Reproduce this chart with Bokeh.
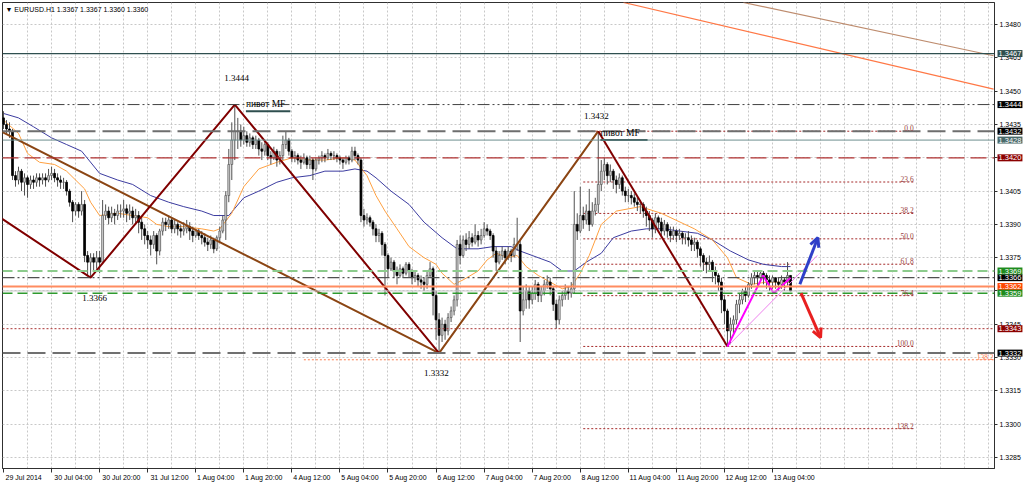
from bokeh.plotting import figure
from bokeh.models import (ColumnDataSource, Range1d, FixedTicker, PrintfTickFormatter,
                          Span, Label, Arrow, OpenHead)
from bokeh.embed import file_html
from bokeh.resources import INLINE

# ---------------- data ----------------
time_tick_bars = [0, 16, 32, 48, 64, 80, 96, 112, 128, 144, 160, 176, 192, 208, 224, 240, 256]
time_tick_labels = ["29 Jul 2014", "30 Jul 04:00", "30 Jul 20:00", "31 Jul 12:00", "1 Aug 04:00",
                    "1 Aug 20:00", "4 Aug 12:00", "5 Aug 04:00", "5 Aug 20:00", "6 Aug 12:00",
                    "7 Aug 04:00", "7 Aug 20:00", "8 Aug 12:00", "11 Aug 04:00", "11 Aug 20:00",
                    "12 Aug 12:00", "13 Aug 04:00"]
price_ticks = [1.3285, 1.3300, 1.3315, 1.3330, 1.3345, 1.3360, 1.3375, 1.3390, 1.3405,
               1.3420, 1.3435, 1.3450, 1.3465, 1.3480]

first_open = 1.3438
closes = [
    1.3435,1.3433,1.3432,1.3412,1.3410,1.3414,1.3409,1.3411,1.3408,1.3410,1.3409,1.3411,1.3410,1.3411,1.3410,1.3412,
    1.3413,1.3411,1.3410,1.3409,1.3409,1.3405,1.3400,1.3396,1.3399,1.3396,1.3399,1.3376,1.3373,1.3375,1.3373,1.3375,
    1.3373,1.3394,1.3396,1.3393,1.3395,1.3394,1.3396,1.3396,1.3397,1.3395,1.3396,1.3393,1.3394,1.3391,1.3388,1.3385,
    1.3383,1.3381,1.3385,1.3378,1.3387,1.3391,1.3390,1.3392,1.3388,1.3390,1.3388,1.3387,1.3388,1.3389,1.3387,1.3385,
    1.3387,1.3385,1.3384,1.3382,1.3381,1.3383,1.3379,1.3384,1.3387,1.3392,1.3403,1.3417,1.3428,1.3432,1.3432,1.3428,
    1.3430,1.3427,1.3429,1.3426,1.3428,1.3424,1.3423,1.3426,1.3421,1.3420,1.3423,1.3419,1.3421,1.3426,1.3428,1.3423,
    1.3420,1.3421,1.3419,1.3418,1.3420,1.3417,1.3419,1.3415,1.3419,1.3420,1.3421,1.3420,1.3422,1.3421,1.3421,1.3420,
    1.3419,1.3418,1.3420,1.3419,1.3423,1.3421,1.3419,1.3394,1.3392,1.3393,1.3391,1.3388,1.3385,1.3386,1.3381,1.3376,
    1.3370,1.3373,1.3369,1.3367,1.3370,1.3368,1.3372,1.3369,1.3366,1.3367,1.3365,1.3364,1.3363,1.3367,1.3370,1.3358,
    1.3347,1.3340,1.3345,1.3342,1.3348,1.3351,1.3356,1.3381,1.3376,1.3383,1.3381,1.3384,1.3382,1.3385,1.3383,1.3385,
    1.3388,1.3387,1.3385,1.3378,1.3373,1.3376,1.3378,1.3375,1.3378,1.3376,1.3381,1.3381,1.3351,1.3356,1.3360,1.3356,
    1.3359,1.3363,1.3358,1.3360,1.3363,1.3364,1.3361,1.3354,1.3347,1.3356,1.3358,1.3360,1.3359,1.3361,1.3390,1.3387,
    1.3394,1.3392,1.3396,1.3390,1.3396,1.3399,1.3408,1.3414,1.3417,1.3412,1.3414,1.3410,1.3408,1.3411,1.3405,1.3403,
    1.3403,1.3402,1.3400,1.3399,1.3399,1.3396,1.3394,1.3392,1.3388,1.3393,1.3391,1.3387,1.3390,1.3387,1.3385,1.3387,
    1.3385,1.3386,1.3384,1.3384,1.3383,1.3381,1.3382,1.3379,1.3376,1.3373,1.3372,1.3373,1.3369,1.3367,1.3364,1.3356,
    1.3351,1.3342,1.3345,1.3347,1.3354,1.3356,1.3360,1.3358,1.3363,1.3366,1.3367,1.3366,1.3368,1.3367,1.3365,1.3364,
    1.3366,1.3364,1.3363,1.3365,1.3364,1.3367,1.3360]
highs = [
    1.3441,1.3437,1.3436,1.3433,1.3414,1.3416,1.3415,1.3413,1.3412,1.3412,1.3412,1.3413,1.3413,1.3413,1.3413,1.3415,
    1.3416,1.3415,1.3413,1.3412,1.3411,1.3410,1.3406,1.3401,1.3400,1.3400,1.3405,1.3401,1.3378,1.3377,1.3377,1.3378,
    1.3378,1.3401,1.3399,1.3398,1.3398,1.3397,1.3399,1.3399,1.3401,1.3399,1.3399,1.3398,1.3397,1.3396,1.3393,1.3390,
    1.3387,1.3385,1.3387,1.3386,1.3388,1.3393,1.3393,1.3394,1.3393,1.3392,1.3391,1.3390,1.3391,1.3392,1.3391,1.3389,
    1.3388,1.3388,1.3387,1.3386,1.3384,1.3385,1.3384,1.3385,1.3389,1.3394,1.3405,1.3424,1.3436,1.3444,1.3438,1.3435,
    1.3434,1.3432,1.3431,1.3430,1.3430,1.3429,1.3427,1.3428,1.3427,1.3423,1.3425,1.3424,1.3423,1.3430,1.3432,1.3429,
    1.3424,1.3423,1.3422,1.3421,1.3422,1.3421,1.3421,1.3420,1.3420,1.3421,1.3423,1.3422,1.3424,1.3423,1.3423,1.3422,
    1.3421,1.3420,1.3421,1.3421,1.3425,1.3425,1.3422,1.3420,1.3397,1.3395,1.3394,1.3392,1.3390,1.3388,1.3387,1.3382,
    1.3377,1.3375,1.3374,1.3371,1.3372,1.3371,1.3373,1.3373,1.3370,1.3369,1.3368,1.3367,1.3366,1.3369,1.3373,1.3371,
    1.3360,1.3350,1.3348,1.3347,1.3350,1.3353,1.3358,1.3383,1.3385,1.3385,1.3386,1.3387,1.3386,1.3390,1.3387,1.3388,
    1.3391,1.3390,1.3388,1.3386,1.3380,1.3378,1.3380,1.3379,1.3380,1.3379,1.3384,1.3393,1.3383,1.3362,1.3363,1.3362,
    1.3362,1.3365,1.3364,1.3362,1.3365,1.3367,1.3366,1.3362,1.3356,1.3358,1.3360,1.3363,1.3362,1.3364,1.3405,1.3395,
    1.3407,1.3398,1.3399,1.3406,1.3400,1.3402,1.3432,1.3419,1.3420,1.3418,1.3417,1.3415,1.3412,1.3413,1.3412,1.3407,
    1.3406,1.3405,1.3404,1.3402,1.3401,1.3400,1.3398,1.3396,1.3393,1.3395,1.3394,1.3393,1.3392,1.3391,1.3389,1.3389,
    1.3388,1.3388,1.3387,1.3386,1.3387,1.3385,1.3384,1.3383,1.3380,1.3377,1.3375,1.3376,1.3374,1.3371,1.3368,1.3366,
    1.3358,1.3352,1.3348,1.3349,1.3356,1.3359,1.3361,1.3362,1.3364,1.3368,1.3369,1.3369,1.3369,1.3369,1.3368,1.3367,
    1.3367,1.3366,1.3366,1.3367,1.3366,1.3373,1.3367]
lows = [
    1.3433,1.3431,1.3429,1.3410,1.3407,1.3408,1.3405,1.3403,1.3402,1.3406,1.3406,1.3407,1.3407,1.3408,1.3407,1.3409,
    1.3410,1.3409,1.3407,1.3406,1.3406,1.3403,1.3398,1.3391,1.3394,1.3393,1.3394,1.3373,1.3367,1.3366,1.3369,1.3370,
    1.3368,1.3372,1.3392,1.3390,1.3391,1.3390,1.3392,1.3393,1.3393,1.3391,1.3392,1.3390,1.3390,1.3386,1.3383,1.3381,
    1.3379,1.3376,1.3379,1.3372,1.3376,1.3385,1.3387,1.3388,1.3386,1.3386,1.3385,1.3384,1.3385,1.3386,1.3383,1.3382,
    1.3384,1.3383,1.3381,1.3380,1.3378,1.3379,1.3377,1.3378,1.3382,1.3386,1.3383,1.3400,1.3410,1.3419,1.3424,1.3425,
    1.3426,1.3425,1.3425,1.3424,1.3424,1.3421,1.3419,1.3421,1.3419,1.3417,1.3419,1.3416,1.3417,1.3419,1.3424,1.3421,
    1.3418,1.3418,1.3417,1.3415,1.3417,1.3415,1.3415,1.3410,1.3414,1.3417,1.3418,1.3418,1.3419,1.3419,1.3419,1.3418,
    1.3417,1.3415,1.3417,1.3417,1.3418,1.3419,1.3417,1.3391,1.3389,1.3390,1.3389,1.3385,1.3382,1.3382,1.3376,1.3358,
    1.3366,1.3369,1.3366,1.3363,1.3366,1.3366,1.3367,1.3366,1.3363,1.3364,1.3362,1.3361,1.3360,1.3361,1.3366,1.3349,
    1.3338,1.3332,1.3337,1.3338,1.3340,1.3346,1.3349,1.3353,1.3372,1.3375,1.3378,1.3379,1.3380,1.3381,1.3380,1.3381,
    1.3384,1.3385,1.3383,1.3375,1.3369,1.3372,1.3374,1.3372,1.3374,1.3373,1.3375,1.3378,1.3337,1.3349,1.3352,1.3352,
    1.3354,1.3356,1.3355,1.3355,1.3358,1.3361,1.3358,1.3351,1.3343,1.3345,1.3353,1.3356,1.3356,1.3357,1.3359,1.3383,
    1.3386,1.3388,1.3390,1.3387,1.3389,1.3394,1.3395,1.3405,1.3410,1.3408,1.3409,1.3406,1.3404,1.3406,1.3403,1.3400,
    1.3400,1.3399,1.3398,1.3396,1.3395,1.3393,1.3389,1.3387,1.3384,1.3386,1.3388,1.3384,1.3385,1.3384,1.3382,1.3383,
    1.3382,1.3383,1.3381,1.3381,1.3380,1.3378,1.3378,1.3375,1.3371,1.3369,1.3368,1.3369,1.3364,1.3363,1.3360,1.3350,
    1.3345,1.3335,1.3336,1.3341,1.3345,1.3350,1.3354,1.3355,1.3357,1.3361,1.3363,1.3362,1.3364,1.3363,1.3361,1.3360,
    1.3361,1.3361,1.3360,1.3361,1.3360,1.3362,1.3360]

# moving averages
blue_ma_bar = [0, 5, 10, 16, 21, 26, 32, 38, 43, 49, 55, 60, 66, 70, 75, 80, 85, 91, 96, 102, 107, 113,
               117, 121, 124, 129, 135, 140, 146, 151, 158, 163, 169, 172, 176, 182, 186, 190, 194,
               199, 203, 209, 214, 220, 225, 231, 236, 242, 248, 253, 259, 262]
blue_ma_price = [1.3440, 1.3438, 1.3434, 1.3429, 1.3426, 1.3423, 1.3413, 1.3410, 1.3408, 1.3403, 1.3400,
                 1.3398, 1.3396, 1.3394, 1.3394, 1.3402, 1.3405, 1.3409, 1.3411, 1.3412, 1.3414, 1.3414,
                 1.3415, 1.3414, 1.3411, 1.3405, 1.3399, 1.3391, 1.3384, 1.3379, 1.3379, 1.3380, 1.3380,
                 1.3378, 1.3376, 1.3373, 1.3369, 1.3369, 1.3373, 1.3377, 1.3384, 1.3387, 1.3388, 1.3388,
                 1.3387, 1.3386, 1.3383, 1.3378, 1.3374, 1.3372, 1.3371, 1.3371]
orange_ma_bar = [0, 5, 8, 12, 17, 21, 27, 29, 32, 38, 43, 48, 51, 55, 60, 66, 70, 72, 76, 80, 85, 91, 96,
                 102, 107, 113, 117, 121, 124, 127, 131, 135, 140, 144, 146, 150, 153, 158, 161, 164,
                 168, 171, 174, 178, 182, 186, 189, 192, 195, 199, 204, 212, 219, 230, 236, 241, 244,
                 249, 254, 259, 262]
orange_ma_price = [1.3437, 1.3431, 1.3422, 1.3418, 1.3417, 1.3414, 1.3406, 1.3400, 1.3394, 1.3395, 1.3394,
                   1.3393, 1.3390, 1.3389, 1.3389, 1.3388, 1.3387, 1.3388, 1.3395, 1.3407, 1.3415, 1.3418,
                   1.3420, 1.3419, 1.3419, 1.3420, 1.3419, 1.3412, 1.3403, 1.3396, 1.3388, 1.3380, 1.3375,
                   1.3372, 1.3368, 1.3363, 1.3365, 1.3369, 1.3374, 1.3377, 1.3375, 1.3376, 1.3371, 1.3367,
                   1.3364, 1.3361, 1.3362, 1.3368, 1.3376, 1.3390, 1.3396, 1.3398, 1.3395, 1.3388, 1.3383,
                   1.3375, 1.3366, 1.3363, 1.3364, 1.3364, 1.3364]

# zigzag / trend lines (bar index, price)
maroon_zz_bar = [-1, 29, 77, 145]
maroon_zz_price = [1.3393, 1.3366, 1.3444, 1.3332]
maroon_leg_bar = [198, 241]
maroon_leg_price = [1.3432, 1.3335]
brown_zz_bar = [-1, 145, 198]
brown_zz_price = [1.3432, 1.3332, 1.3432]
magenta_bar = [241, 252.9, 256.4, 262]
magenta_price = [1.3335, 1.3367, 1.3359, 1.3366]
violet_bar = [241, 270.9]
violet_price = [1.3335, 1.3376]
tan_trend_bar = [246.3, 329.6]
tan_trend_price = [1.3490, 1.3466]
coral_trend_bar = [206.4, 329.6]
coral_trend_price = [1.3490, 1.3451]

# pivot labels
pivot_text = ["1.3366", "1.3444", "1.3332", "1.3432"]
pivot_bar = [30.3, 77.6, 144.1, 197.4]
pivot_price = [1.3357, 1.3456, 1.3323, 1.3439]
mf_text = ["пивот MF", "пивот MF"]
mf_bar0 = [80.7, 198.7]
mf_bar1 = [95.5, 214.4]
mf_price = [1.3441, 1.3428]

# horizontal levels: price, colour, dash, width
level_price = [1.3467, 1.3444, 1.3432, 1.3428, 1.3420, 1.3369, 1.3366, 1.3362, 1.3360, 1.3359, 1.3343, 1.3332]
level_color = ["#2F4F4F", "#404040", "#6E6E6E", "#6F8F8F", "#B03030", "#8CCB8C", "#505050",
               "#FF8C60", "#C8C8C8", "#2E9A2E", "#A83232", "#707070"]
level_dash = ["solid", "12 3 2 3 2 3", "18 7", "solid", "16 6", "10 5", "12 3 2 3 2 3",
              "solid", "solid", "10 5", "2 2", "18 7"]
level_width = [1.2, 1, 2, 1, 1.2, 2, 1.2, 2, 1, 1.5, 1, 2]

# price boxes on the right axis
box_price = [1.3467, 1.3444, 1.3432, 1.3428, 1.3420, 1.3366, 1.3362, 1.3369, 1.3359, 1.3343, 1.3332]
box_color = ["#2F4F4F", "#000000", "#000000", "#4A6A6A", "#8B0000", "#000000", "#FF4500",
             "#1E8B1E", "#1E8B1E", "#8B0000", "#000000"]

# Fibonacci
fib_levels = [0.0, 23.6, 38.2, 50.0, 61.8, 76.4, 100.0, 138.2]
fib_high = 1.3432
fib_low = 1.3335
fib_start_bar = 193
fib_end_bar = 303
orange_fib_price = 1.3329
orange_fib_start_bar = 100
orange_fib_end_bar = 329.6

# arrows
up_arrow = (265.1, 1.3363, 271.1, 1.3384)
down_arrow = (265.5, 1.3359, 272.0, 1.3339)

title_text = "▼ EURUSD.H1  1.3367 1.3367 1.3360 1.3360"

# ---------------- figure ----------------
X0, X1 = -0.33, 329.9
Y0, Y1 = 1.3280, 1.3490
FRAME_W, FRAME_H = 992, 466
PX_PER_BAR = FRAME_W / (X1 - X0)
p = figure(frame_width=FRAME_W, frame_height=FRAME_H, x_range=Range1d(X0, X1), y_range=Range1d(Y0, Y1),
           output_backend="svg", toolbar_location=None, y_axis_location="right",
           min_border_left=2, min_border_top=2, min_border_right=0, min_border_bottom=0,
           background_fill_color="white", border_fill_color="white")
p.outline_line_color = "#303030"
p.outline_line_width = 1

FONT = "Liberation Sans"
SERIF = "Liberation Serif"
p.xgrid.ticker = FixedTicker(ticks=list(range(8, 330, 8)))
p.ygrid.ticker = FixedTicker(ticks=price_ticks)
for g in (p.xgrid, p.ygrid):
    g.grid_line_color = "#C8C8C8"
    g.grid_line_dash = "2 2"
    g.grid_line_width = 1

# x labels sit to the right of their tick (MetaTrader style): label centres are shifted,
# the true tick marks are drawn as minor ticks
label_centres = [round(b + (2 + 1.65 * len(t)) / PX_PER_BAR, 3) for b, t in zip(time_tick_bars, time_tick_labels)]
p.xaxis.ticker = FixedTicker(ticks=label_centres, minor_ticks=time_tick_bars)
p.xaxis.major_label_overrides = {c: t for c, t in zip(label_centres, time_tick_labels)}
p.yaxis.ticker = FixedTicker(ticks=price_ticks)
p.yaxis.formatter = PrintfTickFormatter(format="%.4f")
for ax in (p.xaxis, p.yaxis):
    ax.axis_line_color = "#303030"
    ax.major_tick_in = 0
    ax.minor_tick_in = 0
    ax.major_tick_line_color = "#303030"
    ax.minor_tick_line_color = "#303030"
    ax.major_label_text_font = FONT
    ax.major_label_text_font_size = "7px"
    ax.major_label_text_color = "#000000"
    ax.major_label_standoff = 2
p.yaxis.major_tick_out = 3
p.yaxis.minor_tick_out = 0
p.xaxis.major_tick_out = 0
p.xaxis.minor_tick_out = 4
p.xaxis.major_label_standoff = 1

# levels
for pr, col, dash, w in zip(level_price, level_color, level_dash, level_width):
    p.add_layout(Span(location=pr, dimension="width", line_color=col, line_dash=dash, line_width=w))

# fibonacci lines
fib_prices = [fib_high - lv / 100.0 * (fib_high - fib_low) for lv in fib_levels]
p.segment(x0=[fib_start_bar] * len(fib_prices), x1=[fib_end_bar] * len(fib_prices), y0=fib_prices,
          y1=fib_prices, line_color="#A52A2A", line_dash="2 2", line_width=1)
for lv, pr in zip(fib_levels, fib_prices):
    p.add_layout(Label(x=fib_end_bar, y=pr, text=f"{lv:.1f}", text_align="right", text_baseline="bottom",
                       text_font=SERIF, text_font_size="7.5px", text_color="#9A4040"))
p.segment(x0=[orange_fib_start_bar], x1=[orange_fib_end_bar], y0=[orange_fib_price], y1=[orange_fib_price],
          line_color="#FF7F50", line_dash="2 2", line_width=1)
p.add_layout(Label(x=orange_fib_end_bar, y=orange_fib_price, text="138.2", text_align="right",
                   text_baseline="bottom", text_font=SERIF, text_font_size="7.5px",
                   text_color="#FF7F50"))

# trend lines
p.line(tan_trend_bar, tan_trend_price, line_color="#BE8C6E", line_width=1.2)
p.line(coral_trend_bar, coral_trend_price, line_color="#FF7846", line_width=1.2)

# moving averages
p.line(blue_ma_bar, blue_ma_price, line_color="#3C3CA0", line_width=1)
p.line(orange_ma_bar, orange_ma_price, line_color="#FFA040", line_width=1)

# candles
n = len(closes)
bars = list(range(n))
opens = [first_open] + closes[:-1]
src = ColumnDataSource(dict(
    x=bars, high=highs, low=lows,
    top=[max(o, c) for o, c in zip(opens, closes)],
    bottom=[min(o, c) for o, c in zip(opens, closes)],
    fill=["#D8D8D8" if c >= o else "#000000" for o, c in zip(opens, closes)],
    edge=["#606060" if c >= o else "#000000" for o, c in zip(opens, closes)],
))
p.segment(x0="x", x1="x", y0="low", y1="high", source=src, line_color="#505050", line_width=1)
p.vbar(x="x", width=0.62, top="top", bottom="bottom", source=src, fill_color="fill", line_color="edge",
       line_width=0.8)

# zigzags
p.line(brown_zz_bar, brown_zz_price, line_color="#8B4513", line_width=2)
p.line(maroon_zz_bar, maroon_zz_price, line_color="#800000", line_width=2)
p.line(maroon_leg_bar, maroon_leg_price, line_color="#800000", line_width=2)
p.line(violet_bar, violet_price, line_color="#EE82EE", line_width=1)
p.line(magenta_bar, magenta_price, line_color="#FF00FF", line_width=2)

# arrows
p.add_layout(Arrow(x_start=up_arrow[0], y_start=up_arrow[1], x_end=up_arrow[2], y_end=up_arrow[3],
                   line_color="#2F3FC8", line_width=3,
                   end=OpenHead(size=9, line_color="#2F3FC8", line_width=3)))
p.add_layout(Arrow(x_start=down_arrow[0], y_start=down_arrow[1], x_end=down_arrow[2], y_end=down_arrow[3],
                   line_color="#E82020", line_width=3,
                   end=OpenHead(size=9, line_color="#E82020", line_width=3)))

# pivot texts
for t, b, pr in zip(pivot_text, pivot_bar, pivot_price):
    p.add_layout(Label(x=b, y=pr, text=t, text_align="center", text_baseline="middle",
                       text_font=SERIF, text_font_size="9px", text_color="#000000"))
for t, b0, b1, pr in zip(mf_text, mf_bar0, mf_bar1, mf_price):
    p.segment(x0=[b0], x1=[b1], y0=[pr], y1=[pr], line_color="#2F4F4F", line_width=2)
    p.add_layout(Label(x=b0, y=pr, y_offset=2, text=t, text_align="left", text_baseline="bottom",
                       text_font=SERIF, text_font_size="9.5px", text_color="#000000"))

# title
p.add_layout(Label(x=X0, y=Y1, x_offset=3, y_offset=-3, text=title_text, text_align="left", text_baseline="top",
                   text_font=FONT, text_font_size="7px", text_color="#000000"))

# price boxes on the price scale (placed in the right side panel so they are not clipped to the frame)
for pr, col in zip(box_price, box_color):
    p.add_layout(Label(x=X1, y=pr, x_offset=3, text=f"{pr:.4f}", text_align="left", text_baseline="middle",
                       text_font=FONT, text_font_size="7.5px", text_color="#FFFFFF",
                       background_fill_color=col, padding=1), "right")

open("out.html", "w").write(file_html(p, INLINE))
